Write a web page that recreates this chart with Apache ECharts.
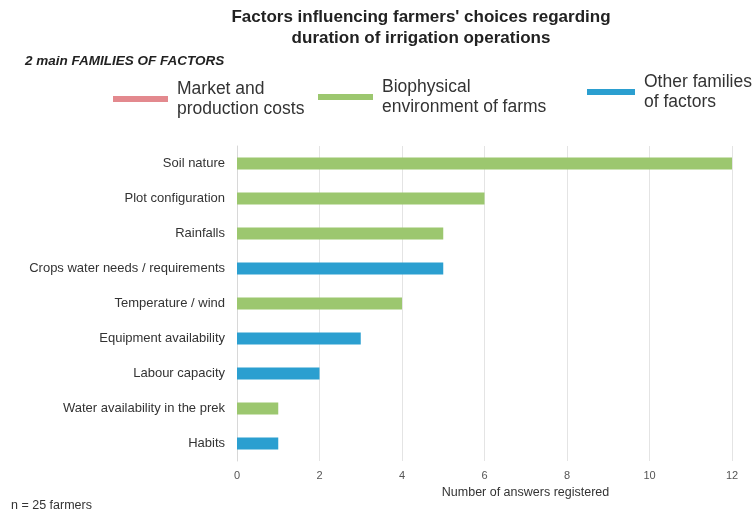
<!DOCTYPE html>
<html>
<head>
<meta charset="utf-8">
<script src="https://cdn.jsdelivr.net/npm/echarts@6/dist/echarts.min.js"></script>
<style>html,body{margin:0;padding:0;background:#fff}#c{width:754px;height:515px}</style>
</head>
<body>
<div id="c"></div>
<script>
const categories = ["Soil nature","Plot configuration","Rainfalls","Crops water needs / requirements","Temperature / wind","Equipment availability","Labour capacity","Water availability in the prek","Habits"];
const values = [12,6,5,5,4,3,2,1,1];
const families = ["bio","bio","bio","other","bio","other","other","bio","other"];
const xTicks = [0,2,4,6,8,10,12];
const seriesNames = {market:"Market and\nproduction costs", bio:"Biophysical\nenvironment of farms", other:"Other families\nof factors"};
const colors = {market:"#e3898e", bio:"#9cc76f", other:"#2b9fd0"};

const chart = echarts.init(document.getElementById('c'));
const mk = key => ({
  name: seriesNames[key], type: 'bar', stack: 'all', barWidth: 12,
  itemStyle: {color: colors[key]},
  data: values.map((v,i) => families[i] === key ? v : '-')
});
const legendText = {fontSize: 17.5, color: '#333', lineHeight: 20, fontFamily: 'Liberation Sans', padding: [0,0,0,4]};
chart.setOption({
  animation: false,
  title: [{text: "Factors influencing farmers' choices regarding\nduration of irrigation operations", left: 416, textAlign: 'center', top: 2,
    textStyle: {fontSize: 17, fontWeight: 'bold', color: '#222', lineHeight: 21, fontFamily: 'Liberation Sans'}},
    {text: "2 main FAMILIES OF FACTORS", left: 20, top: 49, textStyle: {fontSize: 13.5, fontWeight: 'bold', fontStyle: 'italic', color: '#222', fontFamily: 'Liberation Sans'}},
    {text: "n = 25 farmers", left: 6, top: 494, textStyle: {fontSize: 12.5, fontWeight: 'normal', color: '#333', fontFamily: 'Liberation Sans'}}],
  legend: [
    {data: [seriesNames.market], left: 108, top: 74, icon: 'rect', itemWidth: 55, itemHeight: 6, textStyle: legendText},
    {data: [seriesNames.bio], left: 313, top: 72, icon: 'rect', itemWidth: 55, itemHeight: 6, textStyle: legendText},
    {data: [seriesNames.other], left: 582, top: 67, icon: 'rect', itemWidth: 48, itemHeight: 6, textStyle: legendText}
  ],
  grid: {left: 237, right: 22, top: 146, bottom: 54},
  xAxis: {type: 'value', min: 0, max: 12, interval: 2,
    name: 'Number of answers registered', nameLocation: 'middle', nameGap: 24,
    nameTextStyle: {fontSize: 12.5, color: '#333', fontFamily: 'Liberation Sans', padding: [0,0,0,82]},
    axisLine: {show: false}, axisTick: {show: false},
    axisLabel: {fontSize: 11, color: '#555', margin: 9, fontFamily: 'Liberation Sans',
      formatter: v => xTicks.includes(v) ? String(v) : ''},
    splitLine: {lineStyle: {color: '#e4e4e4'}}},
  yAxis: {type: 'category', data: categories, inverse: true,
    axisLine: {lineStyle: {color: '#d8d8d8'}}, axisTick: {show: false},
    axisLabel: {fontSize: 13, color: '#333', margin: 12, fontFamily: 'Liberation Sans'}},
  series: [mk('market'), mk('bio'), mk('other')]
});
</script>
</body>
</html>
